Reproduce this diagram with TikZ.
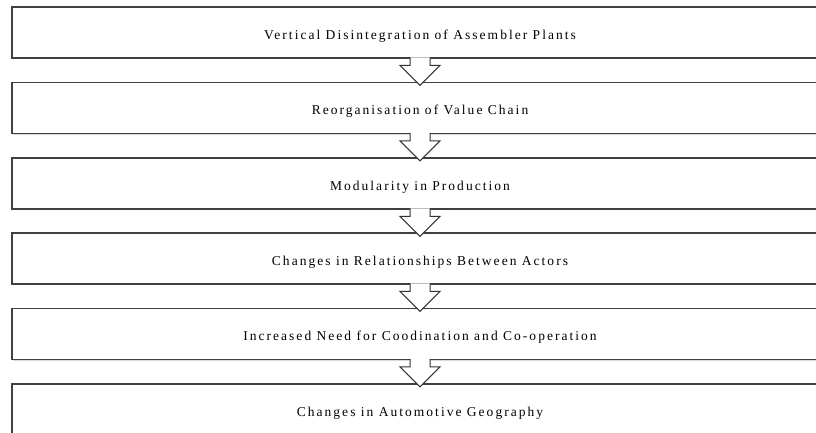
\documentclass[tikz,border=0pt]{standalone}
\usepackage{fontspec}
\setmainfont[LetterSpace=15]{Liberation Serif}
\usetikzlibrary{shadows}
\tikzset{
  stagebox/.style={rectangle, draw=black!75, line width=1.2pt, fill=white,
    minimum width=816pt, minimum height=51pt, text height=13.5pt, text depth=0pt,
    font=\fontsize{13.5}{15}\selectfont,
    drop shadow={shadow xshift=0.8pt, shadow yshift=-1.2pt, opacity=0.3}},
  flowarrow/.style={draw=black!80, line width=1pt, fill=white, line join=miter}
}

\begin{document}
\begin{tikzpicture}[x=1pt,y=-1pt]
    \clip (0,0) rectangle (816,432);

    % stages
    \node[stagebox] (b1) at (420,32.5) {Vertical Disintegration of Assembler Plants};
    \node[stagebox] (b2) at (420,108) {Reorganisation of Value Chain};
    \node[stagebox] (b3) at (420,183.5) {Modularity in Production};
    \node[stagebox] (b4) at (420,258.5) {Changes in Relationships Between Actors};
    \node[stagebox] (b5) at (420,334) {Increased Need for Coodination and Co-operation};
    \node[stagebox] (b6) at (420,409.5) {Changes in Automotive Geography};

    % block arrows between stages
    \filldraw[flowarrow] ([xshift=-10pt,yshift=1.2pt]b1.south) -- ++(0,8) -- ++(-10,0) -- ++(20,20) -- ++(20,-20) -- ++(-10,0) -- ++(0,-8);
    \filldraw[flowarrow] ([xshift=-10pt,yshift=1.2pt]b2.south) -- ++(0,8) -- ++(-10,0) -- ++(20,20) -- ++(20,-20) -- ++(-10,0) -- ++(0,-8);
    \filldraw[flowarrow] ([xshift=-10pt,yshift=1.2pt]b3.south) -- ++(0,8) -- ++(-10,0) -- ++(20,20) -- ++(20,-20) -- ++(-10,0) -- ++(0,-8);
    \filldraw[flowarrow] ([xshift=-10pt,yshift=1.2pt]b4.south) -- ++(0,8) -- ++(-10,0) -- ++(20,20) -- ++(20,-20) -- ++(-10,0) -- ++(0,-8);
    \filldraw[flowarrow] ([xshift=-10pt,yshift=1.2pt]b5.south) -- ++(0,8) -- ++(-10,0) -- ++(20,20) -- ++(20,-20) -- ++(-10,0) -- ++(0,-8);

\end{tikzpicture}
\end{document}
